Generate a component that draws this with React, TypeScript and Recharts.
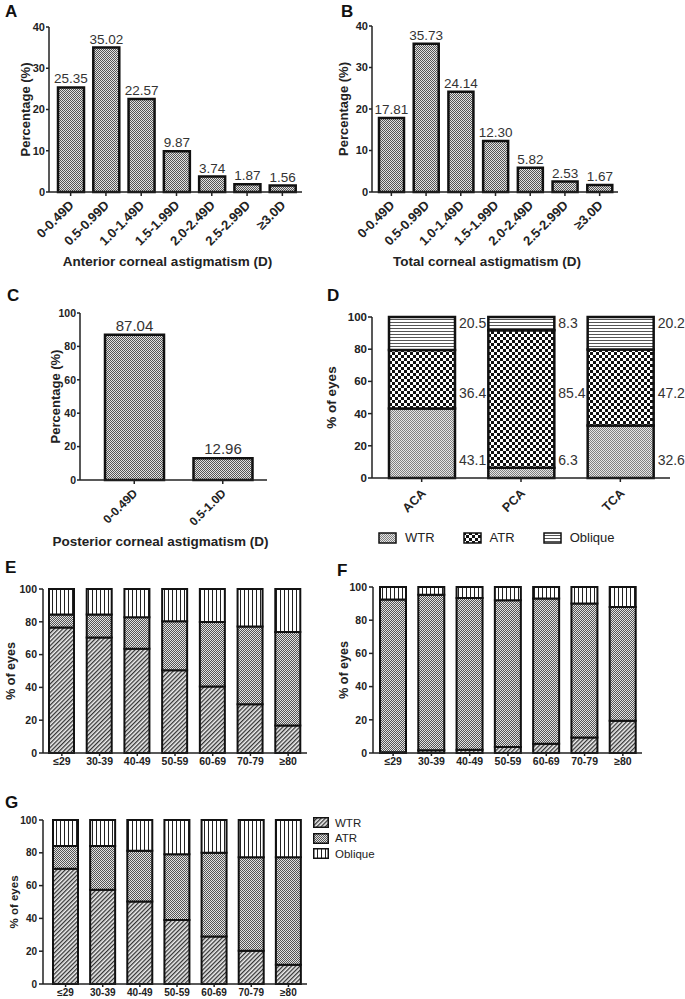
import React from "react";
import { Bar, BarChart, LabelList, Legend, XAxis, YAxis } from "recharts";

const FONT = '"Liberation Sans", Arial, Helvetica, sans-serif';
const INK = "#222";

// A, B: distribution of corneal astigmatism
const diopterBins = ["0-0.49D", "0.5-0.99D", "1.0-1.49D", "1.5-1.99D", "2.0-2.49D", "2.5-2.99D", "≥3.0D"];
const anteriorPct = [25.35, 35.02, 22.57, 9.87, 3.74, 1.87, 1.56];
const totalPct = [17.81, 35.73, 24.14, 12.3, 5.82, 2.53, 1.67];

// C: posterior
const posteriorBins = ["0-0.49D", "0.5-1.0D"];
const posteriorPct = [87.04, 12.96];

// D: axis type by surface
const surfaces = ["ACA", "PCA", "TCA"];
const surfaceWTR = [43.1, 6.3, 32.6];
const surfaceATR = [36.4, 85.4, 47.2];
const surfaceOblique = [20.5, 8.3, 20.2];

// E, F, G: axis type by age group
const ageGroups = ["≤29", "30-39", "40-49", "50-59", "60-69", "70-79", "≥80"];
const acaWTR = [76.5, 70.5, 63.5, 50.5, 40.5, 29.8, 16.8];
const acaATR = [8.0, 14.0, 19.2, 29.8, 39.4, 47.4, 57.0];
const acaOblique = [15.5, 15.5, 17.3, 19.7, 20.1, 22.8, 26.2];
const pcaWTR = [0.4, 1.6, 2.0, 3.6, 5.6, 9.4, 19.5];
const pcaATR = [92.0, 93.8, 91.4, 88.4, 87.4, 80.6, 68.5];
const pcaOblique = [7.6, 4.6, 6.6, 8.0, 7.0, 10.0, 12.0];
const tcaWTR = [70.2, 57.4, 50.3, 39.1, 29.0, 20.3, 11.8];
const tcaATR = [14.0, 26.8, 31.0, 40.0, 51.1, 57.0, 65.5];
const tcaOblique = [15.8, 15.8, 18.7, 20.9, 19.9, 22.7, 22.7];

const seriesOrder = ["WTR", "ATR", "Oblique"];
// where the side labels of D sit (in % units)
const dLabelLevels = [11, 53, 96];

const axisLine = { stroke: INK, strokeWidth: 1.5 };

function Patterns() {
  return (
    <svg width={0} height={0} style={{ position: "absolute" }}>
      <defs>
        <pattern id="stip" width="2" height="2" patternUnits="userSpaceOnUse">
          <rect width="2" height="2" fill="#e2e2e2" />
          <rect width="1" height="1" fill="#555" />
          <rect x="1" y="1" width="1" height="1" fill="#555" />
        </pattern>
        <pattern id="stipLight" width="2" height="2" patternUnits="userSpaceOnUse">
          <rect width="2" height="2" fill="#e6e6e6" />
          <rect width="1" height="1" fill="#808080" />
          <rect x="1" y="1" width="1" height="1" fill="#808080" />
        </pattern>
        <pattern id="check" width="6" height="6" patternUnits="userSpaceOnUse">
          <rect width="6" height="6" fill="#fff" />
          <rect width="3" height="3" fill="#111" />
          <rect x="3" y="3" width="3" height="3" fill="#111" />
        </pattern>
        <pattern id="hlines" width="3" height="3" patternUnits="userSpaceOnUse">
          <rect width="3" height="3" fill="#fff" />
          <rect width="3" height="1" fill="#555" />
        </pattern>
        <pattern id="hatch" width="3" height="3" patternUnits="userSpaceOnUse" patternTransform="rotate(45)">
          <rect width="3" height="3" fill="#eee" />
          <rect width="1.3" height="3" fill="#333" />
        </pattern>
        <pattern id="vlines" width="4" height="4" patternUnits="userSpaceOnUse">
          <rect width="4" height="4" fill="#fff" />
          <rect width="1" height="4" fill="#222" />
        </pattern>
      </defs>
    </svg>
  );
}

function rotTick(dx: number, dy: number, fontSize: number) {
  return (props: any) => {
    const { x, y, payload } = props;
    return (
      <g transform={`translate(${x + dx},${y + dy})`}>
        <text textAnchor="end" transform="rotate(-45)" fontSize={fontSize} fontWeight="bold" fill={INK} fontFamily={FONT}>
          {payload.value}
        </text>
      </g>
    );
  };
}

function yLabel(value: string, offset: number, fontSize: number) {
  return {
    value,
    angle: -90,
    position: "insideLeft" as const,
    offset,
    style: { textAnchor: "middle", fontWeight: "bold", fontSize, fill: INK, fontFamily: FONT },
  };
}

function xLabel(value: string, dx: number) {
  return {
    value,
    position: "insideBottom" as const,
    offset: 0,
    dx,
    style: { fontWeight: "bold", fontSize: 13.5, fill: INK, fontFamily: FONT },
  };
}

function Letter({ ch, x, y }: { ch: string; x: number; y: number }) {
  return (
    <div style={{ position: "absolute", left: x, top: y, fontSize: 17, fontWeight: "bold", lineHeight: 1, color: "#111", fontFamily: FONT }}>
      {ch}
    </div>
  );
}

function HistPanel(props: {
  cats: string[]; vals: number[]; width: number; height: number; margin: any; xHeight: number;
  yMax: number; yTicks: number[]; yLab: number; title: string; titleDx: number; barSize: number;
  padding: any; tickFs: number; xTickFs: number; valFs: number; tdx: number; tdy: number;
}) {
  const data = props.cats.map((c, i) => ({ bin: c, pct: props.vals[i] }));
  return (
    <BarChart width={props.width} height={props.height} data={data} margin={props.margin}>
      <XAxis dataKey="bin" interval={0} height={props.xHeight} tickSize={4} axisLine={axisLine} tickLine={axisLine}
        padding={props.padding} tick={rotTick(props.tdx, props.tdy, props.xTickFs)} label={xLabel(props.title, props.titleDx)} />
      <YAxis width={40} domain={[0, props.yMax]} ticks={props.yTicks} tickSize={3} tickMargin={1} axisLine={axisLine} tickLine={axisLine}
        tick={{ fontSize: props.tickFs, fontWeight: "bold", fill: INK, fontFamily: FONT }}
        label={yLabel("Percentage (%)", props.yLab, 13)} />
      <Bar dataKey="pct" fill="url(#stip)" stroke="#111" strokeWidth={2.5} barSize={props.barSize} isAnimationActive={false}>
        <LabelList dataKey="pct" position="top" offset={4} formatter={(v: any) => Number(v).toFixed(2)}
          style={{ fontSize: props.valFs, fill: "#333", fontFamily: FONT }} />
      </Bar>
    </BarChart>
  );
}

function sideLabel(series: number[], below: number[][], level: number) {
  return (props: any) => {
    const vb = props.viewBox && props.viewBox.height != null ? props.viewBox : props;
    const { x, y, width, height } = vb;
    const i = props.index;
    const v = series[i];
    const base = below.reduce((s, arr) => s + arr[i], 0);
    const ppu = height / v;
    const zeroY = y + height + base * ppu;
    return (
      <text x={x + width + 4} y={zeroY - level * ppu} dy="0.36em" fontSize={14} fill="#333" fontFamily={FONT}>
        {v}
      </text>
    );
  };
}

const legendSort = (it: any) => seriesOrder.indexOf(it.value);

function RowLegend(props: any) {
  const items = props.payload || [];
  return (
    <div style={{ display: "flex", fontFamily: FONT, fontSize: 13, color: "#222" }}>
      {items.map((it: any) => (
        <div key={it.value} style={{ display: "flex", alignItems: "center", marginRight: 28 }}>
          <svg width={19} height={12} style={{ marginRight: 8 }}>
            <rect x={1} y={1} width={17} height={10} fill={it.color} stroke="#111" strokeWidth={1.5} />
          </svg>
          {it.value}
        </div>
      ))}
    </div>
  );
}

function ColLegend(props: any) {
  const items = props.payload || [];
  return (
    <div style={{ fontFamily: FONT, fontSize: 11.5, color: "#222" }}>
      {items.map((it: any) => (
        <div key={it.value} style={{ display: "flex", alignItems: "center", height: 15.5 }}>
          <svg width={16} height={11} style={{ marginRight: 6 }}>
            <rect x={0.75} y={0.75} width={14.5} height={9.5} fill={it.color} stroke="#111" strokeWidth={1.5} />
          </svg>
          {it.value}
        </div>
      ))}
    </div>
  );
}

function AgePanel(props: {
  wtr: number[]; atr: number[]; obl: number[]; width: number; height: number; margin: any;
  yWidth: number; yLab: number; yLabFs: number; tickFs: number; barSize: number; padding: any;
  xHeight: number; legend?: boolean;
}) {
  const data = ageGroups.map((g, i) => ({ age: g, WTR: props.wtr[i], ATR: props.atr[i], Oblique: props.obl[i] }));
  const tick = { fontSize: props.tickFs, fontWeight: "bold", fill: INK, fontFamily: FONT };
  return (
    <BarChart width={props.width} height={props.height} data={data} margin={props.margin}>
      <XAxis dataKey="age" interval={0} height={props.xHeight} tickSize={3} axisLine={axisLine} tickLine={axisLine}
        padding={props.padding} tick={tick} />
      <YAxis width={props.yWidth} domain={[0, 100]} ticks={[0, 20, 40, 60, 80, 100]} tickSize={4} axisLine={axisLine}
        tickLine={axisLine} tick={tick} label={yLabel("% of eyes", props.yLab, props.yLabFs)} />
      <Bar dataKey="WTR" name="WTR" stackId="a" fill="url(#hatch)" stroke="#111" strokeWidth={2} barSize={props.barSize} isAnimationActive={false} />
      <Bar dataKey="ATR" name="ATR" stackId="a" fill="url(#stip)" stroke="#111" strokeWidth={2} barSize={props.barSize} isAnimationActive={false} />
      <Bar dataKey="Oblique" name="Oblique" stackId="a" fill="url(#vlines)" stroke="#111" strokeWidth={2} barSize={props.barSize} isAnimationActive={false} />
      {props.legend && (
        <Legend layout="vertical" align="center" verticalAlign="middle" content={ColLegend} itemSorter={legendSort}
          wrapperStyle={{ left: 313, top: 25, width: 70, height: 50 }} />
      )}
    </BarChart>
  );
}

export default function App() {
  const dData = surfaces.map((s, i) => ({ s, WTR: surfaceWTR[i], ATR: surfaceATR[i], Oblique: surfaceOblique[i] }));
  const dTick = { fontSize: 11.5, fontWeight: "bold", fill: INK, fontFamily: FONT };
  return (
    <div style={{ position: "absolute", left: 0, top: 0, width: 685, height: 999, background: "#fff", fontFamily: FONT }}>
      <Patterns />
      <Letter ch="A" x={5} y={3} />
      <Letter ch="B" x={341} y={3} />
      <Letter ch="C" x={7} y={287} />
      <Letter ch="D" x={327} y={287} />
      <Letter ch="E" x={5} y={559} />
      <Letter ch="F" x={337} y={562} />
      <Letter ch="G" x={5} y={794} />

      <div style={{ position: "absolute", left: 0, top: 0 }}>
        <HistPanel cats={diopterBins} vals={anteriorPct} width={310} height={270}
          margin={{ top: 27, right: 8, left: 9, bottom: 4 }} xHeight={74} yMax={40} yTicks={[0, 10, 20, 30, 40]}
          yLab={16} title="Anterior corneal astigmatism (D)" titleDx={-8} barSize={26} padding={{ left: 4, right: 2 }}
          tickFs={11} xTickFs={13} valFs={13.5} tdx={4} tdy={8} />
      </div>

      <div style={{ position: "absolute", left: 332, top: 0 }}>
        <HistPanel cats={diopterBins} vals={totalPct} width={295} height={270}
          margin={{ top: 26, right: 9, left: 0, bottom: 4 }} xHeight={74} yMax={40} yTicks={[0, 10, 20, 30, 40]}
          yLab={11} title="Total corneal astigmatism (D)" titleDx={-8} barSize={25} padding={{ left: 2, right: 1 }}
          tickFs={11} xTickFs={13} valFs={13.5} tdx={4} tdy={8} />
      </div>

      <div style={{ position: "absolute", left: 0, top: 280 }}>
        <HistPanel cats={posteriorBins} vals={posteriorPct} width={275} height={270}
          margin={{ top: 33, right: 8, left: 40, bottom: 4 }} xHeight={66} yMax={100} yTicks={[0, 20, 40, 60, 80, 100]}
          yLab={15} title="Posterior corneal astigmatism (D)" titleDx={-13} barSize={59} padding={{ left: 10, right: 0 }}
          tickFs={10.5} xTickFs={12} valFs={15} tdx={4} tdy={8} />
      </div>

      <div style={{ position: "absolute", left: 320, top: 280 }}>
        <BarChart width={365} height={275} data={dData} margin={{ top: 37, right: 15, left: 0, bottom: 37 }}>
          <XAxis dataKey="s" interval={0} height={40} tickSize={4} axisLine={axisLine} tickLine={axisLine}
            tick={rotTick(5, 10, 12.5)} />
          <YAxis width={52} domain={[0, 100]} ticks={[0, 20, 40, 60, 80, 100]} tickSize={4} tickMargin={1} axisLine={axisLine}
            tickLine={axisLine} tick={dTick} label={yLabel("% of eyes", 11, 13.5)} />
          <Bar dataKey="WTR" name="WTR" stackId="d" fill="url(#stipLight)" stroke="#111" strokeWidth={2.5} barSize={66} isAnimationActive={false}>
            <LabelList dataKey="WTR" content={sideLabel(surfaceWTR, [], dLabelLevels[0])} />
          </Bar>
          <Bar dataKey="ATR" name="ATR" stackId="d" fill="url(#check)" stroke="#111" strokeWidth={2.5} barSize={66} isAnimationActive={false}>
            <LabelList dataKey="ATR" content={sideLabel(surfaceATR, [surfaceWTR], dLabelLevels[1])} />
          </Bar>
          <Bar dataKey="Oblique" name="Oblique" stackId="d" fill="url(#hlines)" stroke="#111" strokeWidth={2.5} barSize={66} isAnimationActive={false}>
            <LabelList dataKey="Oblique" content={sideLabel(surfaceOblique, [surfaceWTR, surfaceATR], dLabelLevels[2])} />
          </Bar>
          <Legend layout="vertical" align="center" verticalAlign="middle" content={RowLegend} itemSorter={legendSort}
            wrapperStyle={{ left: 58, top: 250, width: 280, height: 16 }} />
        </BarChart>
      </div>

      <div style={{ position: "absolute", left: 0, top: 555 }}>
        <AgePanel wtr={acaWTR} atr={acaATR} obl={acaOblique} width={315} height={215}
          margin={{ top: 34, right: 8, left: 3, bottom: 0 }} yWidth={40} yLab={8} yLabFs={12.5} tickFs={10.5}
          barSize={25} padding={{ left: 0, right: 0 }} xHeight={17} />
      </div>

      <div style={{ position: "absolute", left: 330, top: 555 }}>
        <AgePanel wtr={pcaWTR} atr={pcaATR} obl={pcaOblique} width={320} height={215}
          margin={{ top: 32, right: 8, left: 0, bottom: 0 }} yWidth={43} yLab={14} yLabFs={12.5} tickFs={10.5}
          barSize={26} padding={{ left: 1, right: 0 }} xHeight={17} />
      </div>

      <div style={{ position: "absolute", left: 0, top: 790 }}>
        <AgePanel wtr={tcaWTR} atr={tcaATR} obl={tcaOblique} width={380} height={209}
          margin={{ top: 30, right: 73, left: 3, bottom: 1 }} yWidth={40} yLab={11} yLabFs={11.5} tickFs={10}
          barSize={25} padding={{ left: 4, right: 0 }} xHeight={14} legend />
      </div>
    </div>
  );
}
